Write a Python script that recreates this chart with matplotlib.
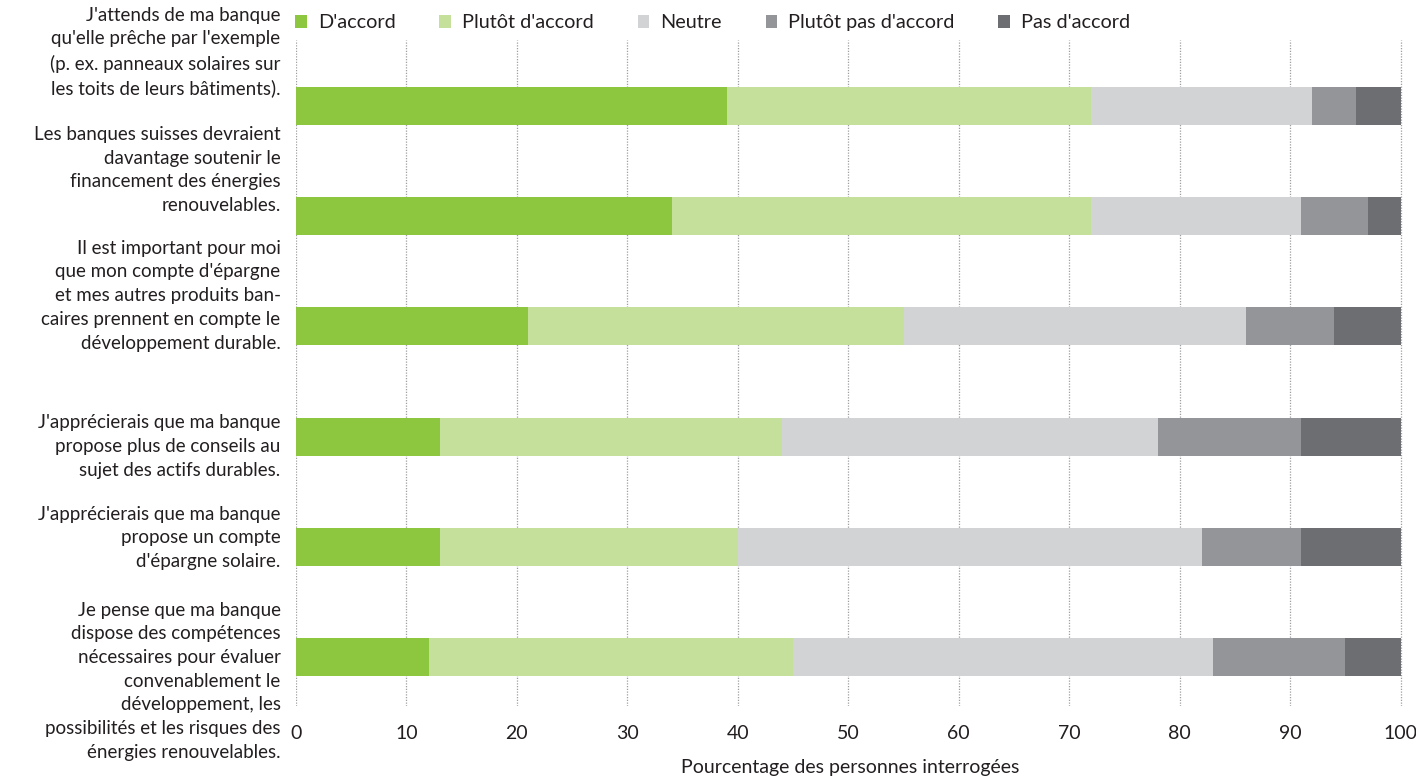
import numpy as np
import matplotlib.pyplot as plt
from matplotlib.patches import Patch

plt.rcParams['font.family'] = ['Lato', 'DejaVu Sans']

statements = [
    "J'attends de ma banque\nqu'elle prêche par l'exemple\n(p. ex. panneaux solaires sur\nles toits de leurs bâtiments).",
    "Les banques suisses devraient\ndavantage soutenir le\nfinancement des énergies\nrenouvelables.",
    "Il est important pour moi\nque mon compte d'épargne\net mes autres produits ban-\ncaires prennent en compte le\ndéveloppement durable.",
    "J'apprécierais que ma banque\npropose plus de conseils au\nsujet des actifs durables.",
    "J'apprécierais que ma banque\npropose un compte\nd'épargne solaire.",
    "Je pense que ma banque\ndispose des compétences\nnécessaires pour évaluer\nconvenablement le\ndéveloppement, les\npossibilités et les risques des\nénergies renouvelables.",
]

categories = ["D'accord", "Plutôt d'accord", "Neutre", "Plutôt pas d'accord", "Pas d'accord"]

daccord = [39, 34, 21, 13, 13, 12]
plutot_daccord = [33, 38, 34, 31, 27, 33]
neutre = [20, 19, 31, 34, 42, 38]
plutot_pas = [4, 6, 8, 13, 9, 12]
pas_daccord = [4, 3, 6, 9, 9, 5]

colors = ["#8dc63f", "#c5e09b", "#d1d3d4", "#939598", "#6d6e71"]
text_color = "#231f20"

# vertical shift of each statement block relative to its bar
label_offsets = [-0.49, -0.42, -0.28, 0.09, -0.08, 0.22]

fig = plt.figure(figsize=(14.16, 7.76), dpi=100)
ax = fig.add_axes([296 / 1416, 1 - 706 / 776, (1404 - 296) / 1416, (706 - 40) / 776])

y = np.arange(len(statements))
series = [daccord, plutot_daccord, neutre, plutot_pas, pas_daccord]
left = np.zeros(len(statements))
for vals, col, name in zip(series, colors, categories):
    ax.barh(y, vals, left=left, height=0.345, color=col, label=name, zorder=3)
    left += np.array(vals)

ax.set_xlim(0, 100.3)
ax.set_ylim(5.445, -0.6)
ax.set_xticks(np.arange(0, 101, 10))
ax.set_yticks([])
ax.tick_params(axis='x', length=0, pad=14, labelsize=14, labelcolor=text_color)
ax.xaxis.grid(True, linestyle=(0, (1, 1.2)), color="#9d9fa2", linewidth=0.9, zorder=0)
for s in ax.spines.values():
    s.set_visible(False)

ax.set_xlabel("Pourcentage des personnes interrogées", fontsize=14,
              color=text_color, labelpad=12)

for i, (txt, off) in enumerate(zip(statements, label_offsets)):
    ax.text(-1.4, i + off, txt, ha='right', va='center', fontsize=13.5,
            color=text_color, linespacing=1.48)

handles = [Patch(facecolor=c, edgecolor='none') for c in colors]
ax.legend(handles, categories, loc='lower left', bbox_to_anchor=(-0.0117, 0.995),
          ncol=5, frameon=False, fontsize=14.3, handlelength=0.6, handleheight=0.6,
          handletextpad=0.55, columnspacing=2.2, labelcolor=text_color,
          borderaxespad=0.2)

fig.savefig("out.png", dpi=100, facecolor="white")
